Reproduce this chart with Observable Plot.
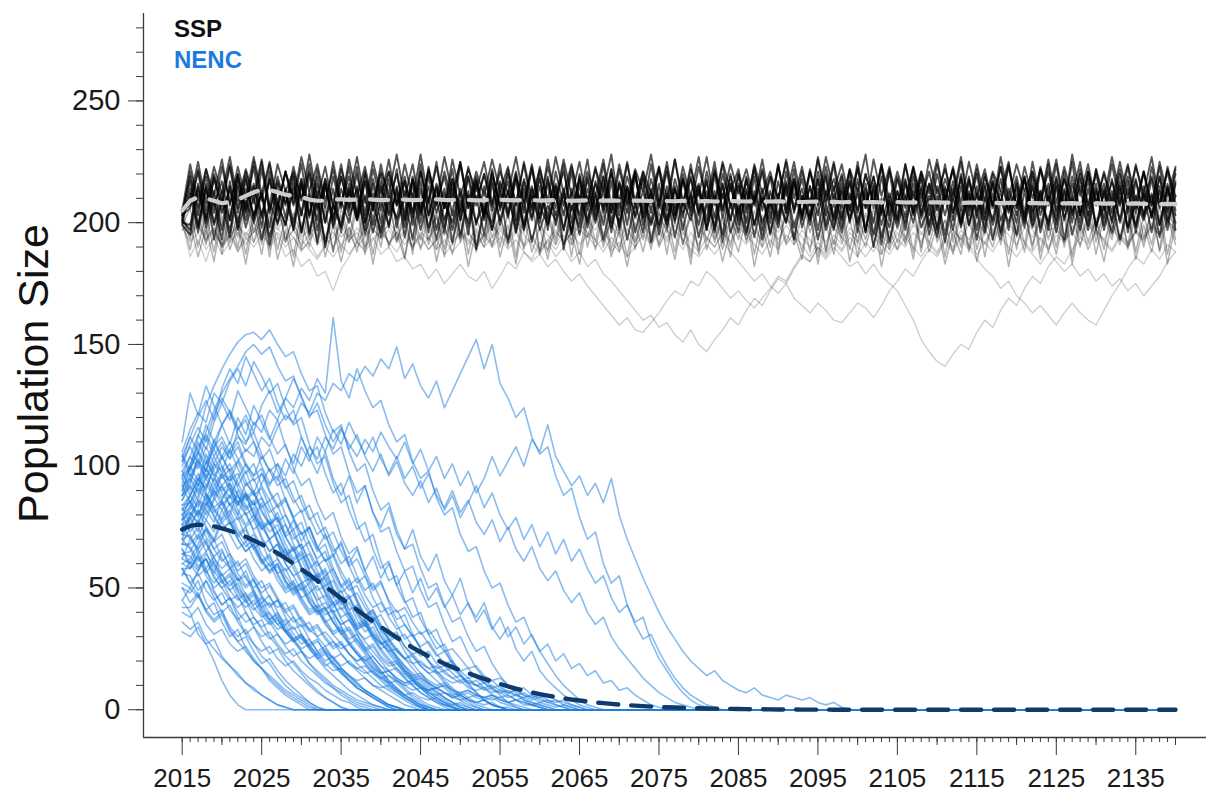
<!DOCTYPE html>
<html>
<head>
<meta charset="utf-8">
<script src="https://cdn.jsdelivr.net/npm/d3@7"></script>
<script src="https://cdn.jsdelivr.net/npm/@observablehq/plot@0.6"></script>
<style>
  html, body { margin: 0; padding: 0; background: #fff; }
  #wrap { position: relative; width: 1206px; height: 793px; overflow: hidden; font-family: "Liberation Sans", Arial, sans-serif; }
  .leg { position: absolute; left: 174px; font-weight: bold; font-size: 24px; line-height: 24px; }
  #ytitle { position: absolute; left: -167px; top: 352px; width: 400px; height: 43px; line-height: 43px; text-align: center; font-size: 43px; color: #111; transform: rotate(-90deg); transform-origin: 50% 50%; white-space: nowrap; }
</style>
</head>
<body>
<div id="wrap">
  <div id="chart"></div>
  <div class="leg" style="top:17px;color:#111">SSP</div>
  <div class="leg" style="top:48px;color:#1b7bdc">NENC</div>
  <div id="ytitle">Population Size</div>
</div>
<script>
// ---------------- data ----------------
const startYear = 2015;
const lastYear = 2140;
const xTickLabels = [2015, 2025, 2035, 2045, 2055, 2065, 2075, 2085, 2095, 2105, 2115, 2125, 2135];
const yTickLabels = [0, 50, 100, 150, 200, 250];

// SSP simulation runs (annual, 2015-2140) - main dense band
const sspCore = [
 [203,221,206,219,204,223,208,220,205,225, 209,224,206,221,207,218,203,222,206,225, 208,219,204,221,205,224,209,220,204,218, 203,223,207,221,209,225,206,219,204,222, 205,220,208,224,206,218,202,221,207,223, 209,226,205,219,204,222,208,220,204,224, 207,221,203,218,206,223,209,225,205,220, 203,219,208,222,206,224,204,218,202,221, 207,223,209,220,205,225,206,219,203,222, 208,218,204,221,207,224,210,222,205,219, 203,220,206,223,208,219,204,225,209,221, 205,218,203,222,207,220,206,224,208,219, 204,221,207,223,205,220],
 [201,214,198,216,200,213,196,217,201,215, 203,218,199,212,197,216,202,219,200,214, 196,213,201,217,199,215,203,212,198,216, 200,219,204,214,197,212,195,216,201,218, 199,213,196,217,202,215,200,211,197,214, 203,218,201,213,196,216,199,219,202,212, 198,215,200,217,203,213,197,211,195,216, 201,218,199,214,196,212,200,217,203,215, 197,213,202,219,200,214,196,216,199,212, 201,217,203,215,198,211,195,214,200,218, 202,216,199,213,197,217,201,215,198,212, 196,214,200,218,203,216,199,213,201,217, 198,215,202,213,197,216],
 [205,224,209,222,211,226,207,223,210,227, 212,225,208,221,210,227,213,224,209,222, 207,226,211,223,208,221,212,228,210,224, 206,222,209,227,212,225,208,221,211,226, 213,223,207,225,210,222,209,227,212,224, 208,221,211,226,207,224,210,222,213,228, 209,225,206,223,211,227,208,221,210,224, 212,222,209,226,207,223,211,225,208,221, 210,227,213,224,209,222,206,226,211,223, 207,224,210,221,212,226,209,223,208,225, 211,222,207,227,210,224,213,221,209,226, 208,223,211,225,206,222,210,227,212,224, 209,221,207,225,211,223],
 [202,217,199,215,193,210,201,219,204,216, 198,221,203,214,200,218,196,213,190,208, 199,216,202,220,205,217,198,214,201,219, 204,215,197,212,192,209,200,218,203,221, 206,217,199,214,201,220,197,215,189,207, 198,214,203,219,200,216,204,221,199,213, 195,211,201,218,205,215,198,220,202,216, 199,213,194,210,200,217,204,222,201,215, 203,219,198,214,202,218,197,213,191,209, 200,216,204,220,199,215,203,217,198,212, 193,210,201,218,205,214,200,219,203,216, 199,221,204,215,197,213,202,218,200,214, 196,212,203,219,201,217],
 [204,219,203,222,207,217,201,220,206,223, 202,218,205,221,208,224,203,216,200,219, 206,223,202,217,207,220,204,222,201,218, 205,221,208,219,203,224,206,217,202,220, 207,222,201,218,205,223,208,216,203,221, 200,219,206,224,204,217,207,221,202,218, 206,223,203,220,208,216,201,222,205,219, 204,217,207,221,202,224,206,218,203,222, 208,220,201,216,205,223,207,219,204,221, 202,224,206,218,203,220,208,222,200,217, 205,219,207,223,204,216,202,221,206,224, 203,218,208,220,201,222,205,217,207,223, 206,221,202,219,204,222],
 [200,212,196,214,199,209,194,215,198,211, 193,208,200,213,197,216,195,210,192,207, 198,214,201,211,196,209,199,215,194,212, 197,210,193,208,200,214,198,211,195,216, 201,213,196,209,192,207,199,215,197,212, 195,211,200,216,198,210,193,208,196,214, 199,212,194,209,201,215,197,213,192,208, 196,214,199,211,195,209,200,216,198,210, 193,207,197,213,201,212,196,215,194,209, 198,211,200,214,195,208,192,210,199,213, 197,215,193,209,200,212,198,216,196,211, 201,213,195,208,199,214,197,210,193,207, 199,212,196,215,200,211],
 [205,207,222,205,220,209,224,206,221,208, 225,204,219,207,223,210,221,205,218,208, 224,206,220,203,222,209,226,207,219,204, 221,208,225,206,218,205,223,209,220,207, 224,203,219,208,222,206,226,210,221,205, 218,207,223,204,220,209,225,206,219,208, 222,205,226,209,218,203,221,207,224,206, 220,208,223,205,219,210,225,204,221,207, 226,209,218,206,222,204,220,208,224,205, 219,207,223,210,221,205,218,209,225,206, 222,204,220,208,224,207,219,205,223,209, 218,206,225,203,221,208,220,207,222,204, 224,209,219,206,223,208],
 [200,199,215,201,213,197,217,200,214,203, 212,198,216,202,219,196,213,201,218,199, 214,203,211,197,216,200,218,198,213,202, 217,196,214,201,212,204,219,199,215,197, 213,202,218,198,211,200,216,203,214,196, 219,201,212,199,217,197,215,202,213,200, 216,198,214,204,211,199,218,196,212,201, 215,200,219,197,213,203,216,198,211,202, 218,199,212,201,217,196,214,200,219,203, 213,197,216,202,211,198,215,204,218,199, 212,201,217,196,214,203,219,199,213,197, 216,202,211,200,218,197,213,201,215,198, 217,203,212,199,214,200],
 [206,210,225,208,223,212,227,209,222,211, 226,207,224,213,221,209,228,210,223,206, 222,211,227,208,225,212,221,207,224,210, 228,209,223,206,226,211,222,213,225,208, 221,212,227,209,224,207,223,210,226,211, 225,208,222,213,228,206,224,209,221,212, 223,210,226,207,222,211,227,208,225,213, 222,206,224,212,221,209,226,210,223,207, 227,211,225,208,222,213,228,206,224,209, 221,210,223,207,226,212,222,211,227,208, 224,209,221,213,225,206,223,210,222,212, 226,207,228,211,224,208,221,209,225,210, 223,212,227,208,222,211],
 [201,197,216,200,219,204,214,198,218,202, 213,191,208,199,216,203,220,197,215,201, 219,205,214,200,212,194,209,202,217,199, 221,203,215,198,218,201,213,189,206,200, 216,204,220,197,214,202,219,199,212,196, 211,200,217,205,222,198,215,203,218,192, 208,199,214,202,219,204,213,197,216,201, 220,196,211,193,209,201,217,205,214,199, 218,203,215,198,221,200,212,190,207,198, 213,202,219,204,216,197,214,201,220,203, 215,198,212,195,210,200,218,204,213,199, 219,201,216,203,221,198,214,200,217,196, 211,202,218,199,215,203],
 [203,206,221,202,218,207,223,204,219,201, 222,205,217,208,220,203,224,206,216,202, 219,207,223,200,218,205,221,208,217,204, 224,203,216,206,222,201,219,207,220,205, 217,208,221,204,223,202,218,206,224,200, 220,205,216,207,222,203,219,208,221,204, 223,201,218,206,224,205,217,202,220,207, 216,204,222,208,219,200,221,206,218,203, 221,207,224,202,217,205,220,208,223,201, 218,206,222,203,216,207,224,204,219,205, 220,202,217,208,223,206,218,201,222,207, 224,205,219,203,221,207,216,204,220,206, 218,203,223,207,221,205],
 [199,195,213,198,210,193,215,197,209,200, 212,194,208,199,214,196,211,192,216,198, 209,200,215,195,207,197,212,201,210,193, 214,198,209,196,216,194,211,200,208,197, 213,192,210,199,215,197,207,201,212,195, 216,198,211,193,208,200,214,196,209,199, 210,201,215,197,212,194,208,199,216,196, 207,195,213,200,209,198,215,193,211,201, 214,197,208,196,212,199,216,195,210,192, 209,200,213,198,207,194,211,197,215,199, 212,196,216,201,209,195,213,198,208,200, 215,193,210,197,214,199,207,196,212,198, 208,201,211,194,216,197]
];

// SSP runs in the lower fringe of the band
const sspMid = [
 [199,206,190,204,188,207,192,203,187,205, 191,208,189,202,186,206,193,209,190,204, 188,203,192,207,187,205,190,201,186,204, 193,208,189,203,191,206,187,202,192,209, 190,204,186,207,193,203,188,205,191,201, 187,206,192,208,189,202,186,204,193,207, 191,203,188,205,186,209,192,204,189,202, 193,207,187,203,190,206,192,201,188,205, 186,204,191,208,189,203,193,206,187,202, 192,205,188,207,191,204,186,203,190,208, 189,202,193,206,187,205,191,209,188,203, 190,207,186,204,192,202,189,206,193,205, 188,203,191,207,187,204],
 [201,189,205,191,208,187,203,190,206,192, 204,186,207,193,202,189,209,191,205,188, 203,192,206,187,204,190,208,193,201,189, 207,191,203,186,205,192,209,188,204,190, 202,193,206,189,208,187,203,191,205,186, 209,190,204,192,201,188,206,193,203,189, 205,187,208,191,203,189,207,192,202,186, 204,193,201,190,206,187,209,191,203,188, 208,189,205,192,202,186,204,190,207,193, 203,191,206,188,209,192,201,187,205,190, 206,186,203,193,208,189,204,191,202,188, 201,192,207,190,205,187,203,193,209,189, 204,190,206,188,202,191],
 [197,200,186,198,184,203,189,199,183,201, 187,204,185,197,182,200,190,205,186,199, 184,198,188,202,183,200,191,196,185,203, 189,204,184,199,187,201,182,197,190,205, 186,199,183,203,188,198,185,201,191,196, 183,202,189,204,186,197,182,200,188,203, 190,198,185,201,183,205,189,199,184,197, 188,203,182,198,186,201,191,196,185,204, 183,200,187,205,184,198,190,202,182,197, 189,201,185,203,188,199,183,196,187,204, 184,198,190,202,182,200,188,205,185,199, 187,203,183,200,189,197,184,201,191,204, 185,199,188,203,183,200],
 [203,193,208,195,211,190,206,194,209,196, 205,189,210,192,204,195,212,191,207,188, 206,194,209,190,203,196,211,192,205,187, 210,193,204,189,207,195,212,191,206,194, 203,190,208,196,211,188,205,193,209,191, 212,194,206,190,203,195,210,189,207,192, 204,196,211,191,206,187,209,194,203,190, 208,192,205,195,212,190,204,193,210,196, 206,188,203,194,209,191,211,195,205,189, 210,193,207,190,204,196,212,192,206,188, 203,195,209,191,211,194,205,189,208,193, 207,190,204,196,210,192,206,195,203,191, 209,194,205,189,211,193]
];

// SSP runs that wander well below the band
const sspLow = [
 [200,186,193,184,195,191,199,188,196,192, 198,190,194,186,189,182,185,178,180,172, 181,186,192,189,197,194,200,196,203,199, 205,198,202,195,199,193,197,190,196,192, 199,194,201,197,204,198,195,191,197,193, 200,196,193,188,194,190,197,192,199,195, 202,197,194,189,196,191,198,193,200,196, 203,198,195,190,197,193,199,194,191,186, 192,188,195,191,198,194,200,196,193,189, 196,192,199,195,201,197,194,190,197,193, 200,196,203,198,195,191,198,194,201,197, 198,193,196,191,199,195,202,197,194,190, 197,193,200,196,203,199],
 [204,197,201,194,198,190,195,188,193,196, 200,195,203,198,194,189,192,186,191,194, 199,193,196,190,194,187,190,184,186,181, 183,177,181,175,179,183,178,176,180,173, 178,184,181,188,185,192,189,196,193,199, 196,201,197,203,199,194,198,192,197,201, 197,193,199,195,202,198,194,190,196,200, 195,191,197,193,200,196,202,198,194,190, 196,192,198,194,190,186,192,188,195,191, 198,194,200,196,192,188,194,197,193,199, 195,191,197,193,199,195,201,197,193,189, 195,192,198,194,200,196,192,188,194,190, 196,192,198,195,201,197],
 [202,196,200,193,198,191,196,189,194,198, 195,201,197,203,199,194,197,191,195,199, 194,198,192,197,201,196,199,193,197,191, 195,189,193,187,191,196,192,198,194,199, 195,191,196,190,194,188,192,186,190,184, 188,182,185,179,176,172,168,164,160,162, 157,159,154,151,156,150,147,152,156,161, 158,164,169,166,172,177,175,181,186,184, 190,187,193,189,196,192,198,194,191,187, 193,190,196,192,199,195,201,197,193,189, 195,192,198,194,200,196,192,188,194,190, 197,193,199,195,201,197,193,189,195,191, 197,194,199,195,201,197],
 [203,195,199,192,197,190,194,199,195,200, 196,202,198,193,197,191,195,199,194,190, 196,192,198,194,200,196,192,188,194,190, 196,193,199,195,201,197,193,189,195,191, 197,193,199,195,191,187,193,189,195,191, 197,194,200,196,192,188,194,190,196,192, 198,194,200,196,192,188,194,190,196,192, 198,195,191,187,193,189,195,191,197,193, 189,185,190,186,182,184,179,183,178,175, 172,166,160,152,147,143,141,146,150,148, 155,160,157,164,169,166,173,178,175,182, 186,183,189,194,191,197,193,199,195,192, 196,193,199,195,200,196],
 [198,192,196,189,194,187,192,196,191,197, 193,199,195,190,194,188,193,197,192,196, 191,195,190,194,198,193,197,192,196,190, 194,189,193,197,192,196,191,195,190,194, 198,193,197,191,195,189,193,197,192,196, 191,195,190,194,188,192,186,190,195,191, 196,192,197,193,189,186,191,187,192,188, 184,180,176,179,174,171,175,169,166,163, 167,164,160,159,163,167,165,161,166,172, 176,181,178,184,189,186,192,188,194,190, 185,181,178,173,176,170,167,163,166,162, 158,163,167,163,160,158,164,170,175,181, 186,183,189,185,191,188],
 [201,195,199,193,197,191,195,199,194,190, 195,191,196,192,197,193,189,185,190,186, 191,187,192,188,193,197,192,196,191,195, 190,194,189,193,188,192,196,191,195,190, 194,189,193,188,184,187,182,185,180,176, 179,174,170,166,162,158,161,156,155,159, 163,168,172,170,176,174,180,177,173,169, 172,168,165,169,173,178,176,182,187,184, 190,186,192,188,194,190,186,191,187,193, 189,194,190,186,191,187,193,189,195,191, 187,192,188,194,190,186,191,187,183,188, 184,180,183,178,181,176,179,174,177,172, 175,170,174,178,184,188]
];

// SSP mean trajectory (2015-2140)
const sspMean = [205,209,210.5,210,209,208,208.5,209.5,211,212.5, 213.5,213.5,212.5,211.5,211,210.5,209.5,209,209,209.5, 209.6,209.4,209.5,209.7,209.5,209.3,209.4,209.6,209.5,209.3, 209.4,209.5,209.6,209.4,209.3,209.5,209.4,209.2,209.3,209.5, 209.4,209.3,209.2,209.4,209.3,209.1,209.2,209.3,209.2,209.0, 209.1,209.2,209.0,209.1,209.2,209.0,208.9,209.1,209.0,208.9, 209.0,208.9,208.8,209.0,208.9,208.8,208.9,208.7,208.8,208.9, 208.8,208.7,208.8,208.6,208.7,208.8,208.6,208.7,208.5,208.6, 208.7,208.5,208.6,208.4,208.5,208.6,208.4,208.5,208.3,208.4, 208.5,208.3,208.4,208.2,208.3,208.4,208.2,208.3,208.1,208.2, 208.3,208.1,208.2,208.0,208.1,208.2,208.0,208.1,207.9,208.0, 208.1,207.9,208.0,207.8,207.9,208.0,207.8,207.9,207.7,207.8, 207.9,207.7,207.8,207.6,207.7,207.6];

// NENC simulation runs (annual from 2015 until extinction; extinct runs stay at 0 to lastYear)
const nencRuns = [
 [45,40,31,27,20,12,6,2,0],
 [32,30,34,27,29,22,18,15,11,9,6,4,2,1,0],
 [58,52,47,41,44,36,30,33,25,20,17,12,9,6,4,2,0],
 [66,60,55,58,49,43,46,38,31,27,22,19,14,10,7,5,3,1,0],
 [50,48,53,44,39,41,33,28,30,24,19,21,16,12,9,6,3,1,0],
 [70,66,59,62,54,50,45,47,40,35,37,30,26,22,19,15,11,8,5,3,1,0],
 [76,70,75,68,63,66,58,53,55,48,42,44,37,32,28,24,19,15,12,9,6,4,2,1,0],
 [40,38,42,35,31,33,27,24,26,21,17,14,11,8,6,4,2,0],
 [84,88,95,91,99,104,97,92,98,89,83,86,78,71,74,66,58,61,53,46,49,41,35,37,30,25,21,17,13,10,7,5,3,1,0],
 [78,81,76,84,90,86,93,88,82,85,77,70,73,65,60,62,55,49,51,44,38,40,33,28,24,20,16,12,9,6,4,2,1,0],
 [92,95,102,98,108,112,105,110,101,96,99,90,84,87,79,72,75,67,61,63,55,49,51,44,38,34,29,25,21,17,13,10,7,5,3,2,1,0],
 [68,68,72,65,70,62,58,61,54,50,53,46,42,44,38,34,36,30,26,28,23,19,16,13,10,8,6,4,2,1,0],
 [80,86,80,89,83,78,82,74,69,72,64,59,62,55,50,52,45,40,42,36,31,27,23,19,15,12,9,7,5,3,1,0],
 [96,100,94,105,98,92,96,88,83,86,78,73,76,68,62,65,57,52,54,47,41,44,37,32,34,28,23,19,15,12,9,6,4,2,1,0],
 [75,78,85,80,87,82,76,79,71,66,69,61,56,58,51,46,48,41,36,38,32,27,29,24,20,16,12,9,6,4,2,0],
 [88,92,86,97,90,84,88,80,75,78,70,65,68,60,55,57,50,45,47,40,35,37,31,26,22,18,14,11,8,5,3,1,0],
 [60,58,63,56,61,53,49,52,45,41,44,37,33,35,29,25,27,22,18,20,15,12,9,7,5,3,1,0],
 [102,108,101,112,104,97,101,93,87,90,82,76,79,71,65,68,60,54,57,49,43,46,39,34,36,30,25,21,17,13,10,7,5,3,1,0],
 [90,100,112,125,133,140,146,151,154,155,152,156,150,145,147,138,131,133,122,114,117,106,98,101,90,82,85,74,66,68,58,50,52,43,36,38,30,24,26,19,14,10,7,4,2,1,0],
 [86,92,105,114,123,130,136,141,147,150,146,149,141,135,137,128,121,123,113,105,108,97,89,92,81,73,75,65,57,59,49,42,44,35,28,30,23,17,13,9,6,3,1,0],
 [106,115,122,118,130,126,135,140,133,143,137,130,134,124,117,120,109,101,104,93,85,88,77,69,72,61,53,55,45,38,40,31,25,27,20,15,11,7,4,2,1,0],
 [78,82,88,95,101,98,107,112,109,118,114,123,119,128,124,132,127,136,130,161,135,128,140,131,124,127,117,110,113,102,95,98,87,80,83,72,65,67,57,50,52,43,36,38,30,24,19,14,10,7,4,2,1,0],
 [72,80,86,84,92,97,94,102,107,104, 112,108,116,121,118,126,122,130,127,134, 131,138,135,141,137,144,140,149,136,142, 133,128,135,124,131,138,145,152,140,150, 134,128,120,124,112,105,108,96,88,91, 79,70,73,60,52,55,43,36,38,28, 21,16,11,7,4,2,1,0],
 [64,65,71,78,73,82,88,84,93,89, 97,92,101,96,105,100,108,103,112,107, 115,109,104,111,106,114,108,103,110,101, 107,98,104,95,101,92,98,89,95,104, 96,102,108,100,111,106,117,104,98,92, 96,88,93,85,95,80,70,62,54,47, 40,34,29,24,20,17,14,16,12,10, 8,7,9,6,5,4,6,5,4,5, 3,2,3,1,0],
 [82,88,95,90,101,108,103,115,121,114, 125,131,122,128,136,129,120,126,117,110, 116,107,113,104,98,105,96,102,93,88, 94,85,91,82,88,79,85,92,83,89, 80,74,79,70,76,67,73,64,70,61, 66,58,52,55,46,40,43,35,29,31, 24,18,13,9,6,4,2,1,0],
 [60,62,68,75,70,79,85,80,89,84, 93,99,94,103,97,108,102,112,106,115, 109,118,111,105,112,103,97,104,95,100, 91,97,88,83,90,81,86,77,72,78, 69,75,66,61,67,58,53,57,49,44, 48,40,35,38,30,25,21,17,13,10, 7,5,3,2,1,0],
 [76,79,73,82,77,86,80,90,84,78, 85,76,81,72,78,69,75,66,72,63, 69,60,66,57,63,54,60,51,57,48, 54,45,50,42,47,39,44,36,41,33, 38,30,34,27,31,24,27,20,23,17, 19,14,16,11,12,8,9,6,4,2, 1,0],
 [95,99,106,98,110,117,109,120,113,125, 118,111,119,108,101,112,104,97,106,95, 88,96,85,92,81,75,83,72,66,74, 63,57,64,53,47,54,43,38,44,34, 29,34,25,20,24,16,12,9,6,4, 2,1,0],
 [56,55,49,53,46,40,43,36,31,34,28,23,25,20,16,13,10,7,5,3,1,0],
 [80,83,91,86,95,89,84,88,80,74,77,69,63,66,58,52,54,47,41,44,37,32,27,23,19,15,11,8,5,3,1,0],
 [98,104,113,107,118,126,119,131,124,117,121,112,105,109,99,92,95,85,78,81,71,64,67,57,50,53,44,37,39,31,25,20,15,11,8,5,3,1,0],
 [42,42,47,40,36,39,32,28,24,20,17,13,10,7,5,3,1,0],
 [70,72,64,69,60,55,58,50,46,49,42,37,40,33,29,31,25,21,17,14,11,8,6,4,2,1,0],
 [104,112,120,127,119,132,140,134,145,138,131,136,126,119,123,112,104,108,97,89,93,82,74,77,66,58,61,51,44,46,37,31,33,25,19,14,10,7,4,2,1,0],
 [88,95,89,99,93,87,91,82,76,80,71,65,68,60,55,49,52,44,39,41,34,29,31,25,20,16,12,9,6,4,2,1,0],
 [62,60,66,58,63,55,51,54,47,43,46,39,35,37,31,27,29,24,20,22,17,14,11,8,6,4,2,1,0],
 [110,130,121,133,125,117,122,113,106,110,100,93,96,86,79,82,72,65,68,58,51,54,45,38,40,32,26,21,16,12,9,6,4,2,1,0],
 [52,50,57,62,56,65,59,53,57,49,44,47,40,35,38,31,27,29,23,19,16,12,9,7,5,3,1,0],
 [82,85,92,99,94,104,110,103,97,101,92,86,89,80,74,77,68,62,65,56,50,53,45,39,41,34,28,30,24,19,15,11,8,5,3,1,0],
 [68,67,61,65,57,52,55,48,44,47,40,36,38,32,28,30,25,21,23,18,15,12,9,7,5,3,2,1,0],
 [36,33,36,29,25,21,18,14,11,8,6,4,2,1,0],
 [74,76,70,74,66,61,64,56,51,54,47,42,45,38,33,35,29,24,26,21,17,14,11,8,6,4,2,1,0],
 [64,63,58,62,55,50,53,46,42,45,39,35,37,32,28,30,26,23,25,21,18,20,17,15,16,13,11,12,10,8,9,7,6,7,5,4,5,3,2,3,1,1,0],
 [72,71,66,70,62,58,61,54,50,53,46,43,45,40,36,38,33,30,32,28,25,27,23,20,22,18,16,17,14,12,13,11,9,10,8,7,8,6,5,6,4,3,4,2,2,1,0],
 [84,85,80,86,79,74,77,70,65,68,61,57,60,53,49,52,46,42,44,39,35,37,32,29,31,27,24,25,21,19,20,17,15,16,13,11,12,10,9,10,8,7,8,6,5,6,4,3,4,2,1,0],
 [58,58,64,57,52,56,49,45,48,42,38,40,35,32,34,29,26,28,24,21,23,19,17,18,15,13,14,12,10,11,9,8,9,7,6,7,5,6,5,4,5,3,4,3,2,3,2,1,2,1,0],
 [96,104,99,108,101,95,99,91,86,89,81,76,79,71,66,68,61,55,58,50,45,47,40,35,37,30,26,22,18,14,11,8,6,4,2,1,0],
 [88,97,92,101,107,100,94,97,89,84,87,79,73,76,68,62,64,57,51,53,46,41,43,37,32,28,24,20,16,13,10,7,5,3,1,0],
 [62,70,66,74,69,77,72,66,69,62,57,60,53,48,50,44,39,41,35,31,27,23,19,16,13,10,8,6,4,2,1,0],
 [105,98,110,103,96,100,92,85,88,80,74,77,69,63,66,58,52,55,48,42,45,38,33,35,29,24,20,16,13,10,7,5,3,2,1,0],
 [55,61,57,64,59,53,56,49,45,48,41,37,39,33,29,31,26,22,24,19,16,13,10,8,6,4,2,1,0],
 [92,85,93,88,81,85,77,71,74,66,60,63,55,49,52,45,40,42,36,31,33,27,23,19,16,13,10,7,5,3,1,0],
 [70,79,86,82,90,96,91,85,89,81,75,78,70,64,67,59,53,56,49,44,46,39,34,36,30,25,27,22,18,15,12,9,7,5,3,1,0],
 [100,109,116,110,121,128,122,115,119,110,103,107,98,91,94,85,78,81,72,65,68,59,52,55,46,40,42,35,29,31,25,20,16,12,9,6,4,2,1,0],
 [45,50,46,53,48,43,46,40,36,38,33,29,31,26,22,24,19,16,13,10,8,6,4,3,2,1,0],
 [83,76,82,75,69,72,64,59,62,55,50,52,46,41,43,37,33,35,30,26,28,23,20,22,18,15,16,13,11,12,9,8,9,7,5,6,4,3,4,2,1,0],
 [78,88,83,93,87,97,90,84,88,80,74,77,69,63,66,58,53,55,48,43,45,39,34,36,31,27,29,24,21,22,18,15,16,13,11,12,9,8,9,6,5,6,4,3,2,1,0],
 [98,90,97,89,83,86,78,72,75,67,61,64,56,50,53,46,41,43,37,32,34,28,24,20,17,14,11,8,6,4,2,1,0],
 [66,58,63,55,50,53,46,42,45,38,34,36,31,27,29,24,21,23,19,16,17,14,12,13,10,9,10,8,6,7,5,4,5,3,2,3,1,0],
 [90,99,106,101,111,104,98,102,94,88,91,83,77,80,72,66,69,61,55,58,51,46,48,42,37,39,33,29,31,26,22,24,19,16,17,14,11,12,9,7,8,6,4,5,3,2,1,0],
 [58,52,56,49,45,48,41,37,40,34,30,32,27,23,25,20,17,14,11,9,7,5,3,2,1,0],
 [102,112,106,117,110,103,107,99,92,95,87,81,84,76,70,73,65,59,62,54,48,51,44,38,41,35,30,32,26,22,18,15,12,9,6,4,2,1,0],
 [80,73,78,71,66,69,62,57,60,53,48,51,45,40,42,36,32,34,29,25,27,23,20,21,17,15,16,13,11,12,10,8,9,7,5,6,4,3,4,2,1,0],
 [95,88,94,102,96,90,93,85,80,83,75,70,73,66,61,64,57,52,55,49,44,46,40,36,38,33,29,31,26,23,24,20,17,18,15,12,13,10,8,9,7,5,6,4,3,2,1,0],
 [72,81,77,85,80,74,77,70,65,68,61,56,59,52,47,50,44,40,42,36,32,34,29,25,27,22,19,20,16,14,15,12,10,11,8,7,8,6,5,6,4,3,2,1,0],
 [86,94,101,95,104,110,103,108,100,94,97,89,83,86,78,72,75,67,61,64,57,51,54,47,42,44,38,33,35,30,26,28,23,19,20,16,13,14,11,9,10,7,6,7,5,3,4,2,1,0],
 [50,44,48,41,37,40,34,30,33,27,24,26,21,18,20,16,13,11,8,6,4,3,1,0],
 [104,96,103,95,88,92,84,78,81,73,67,70,62,57,60,53,48,51,45,40,42,37,33,35,30,27,28,24,21,23,19,17,18,15,13,14,11,10,11,8,7,8,6,5,6,4,3,4,2,1,0],
 [68,75,82,78,86,92,87,95,101,96,104,98,92,95,87,81,84,76,70,73,65,59,62,55,49,52,45,40,42,36,31,33,28,24,25,21,17,18,14,12,13,10,8,9,6,5,6,4,3,2,1,0],
 [76,84,79,88,82,77,80,72,67,70,62,57,60,53,48,51,44,39,41,36,31,33,28,24,26,21,18,19,15,13,14,11,9,10,7,6,7,5,4,5,3,2,1,0],
 [93,101,108,113,107,117,123,116,110,114,105,98,101,92,85,88,79,72,75,67,60,63,55,49,52,45,39,41,35,30,32,27,22,24,19,16,17,13,11,12,9,7,8,6,4,5,3,2,1,0]
];

// NENC mean trajectory (2015-2100, then 0 to lastYear)
const nencMean = [74,75.5,76,75.8,75.3,74.5,73.5,72.3,71,69.5, 68,66.2,64.3,62.2,60,57.7,55.4,53,50.6,48.2, 45.8,43.4,41,38.6,36.3,34,31.8,29.6,27.5,25.5, 23.7,22,20.4,18.9,17.5,16.2,15,13.8,12.7,11.6, 10.6,9.6,8.7,7.9,7.1,6.4,5.8,5.2,4.7,4.2, 3.8,3.4,3,2.7,2.4,2.1,1.9,1.7,1.5,1.3, 1.1,1,0.9,0.8,0.7,0.6,0.5,0.45,0.4,0.35, 0.3,0.25,0.2,0.18,0.15,0.12,0.1,0.08,0.06,0.05, 0.04,0.03,0.02,0.01,0.01,0];

// ---------------- build rows ----------------
function rowsFrom(runs, tag, padToEnd) {
  const out = [];
  runs.forEach((vals, k) => {
    vals.forEach((v, i) => out.push({year: startYear + i, value: v, run: tag + k}));
    const lastIdxYear = startYear + vals.length - 1;
    if (padToEnd && lastIdxYear < lastYear) out.push({year: lastYear, value: vals[vals.length - 1], run: tag + k});
  });
  return out;
}
const nencRows = rowsFrom(nencRuns, "n", true);
const sspLowRows = rowsFrom(sspLow, "l", false);
const sspMidRows = rowsFrom(sspMid, "m", false);
const sspCoreRows = rowsFrom(sspCore, "c", false);
const sspMeanRows = rowsFrom([sspMean], "sm", false);
const nencMeanRows = rowsFrom([nencMean], "nm", true);

const xDomain = [2010.13, 2143.9];
const yDomain = [-11.4, 285.9];
const yMinorTicks = d3.range(0, 281, 10);
const xMidTicks = d3.range(2020, 2141, 10);
const xMinorTicks = d3.range(2015, 2141, 1);

const axisColor = "#3a3a3a";

const chart = Plot.plot({
  width: 1206,
  height: 793,
  marginLeft: 143,
  marginRight: 0,
  marginTop: 13,
  marginBottom: 56,
  x: {domain: xDomain},
  y: {domain: yDomain},
  style: {fontFamily: "'Liberation Sans', Arial, sans-serif", color: "#1a1a1a", background: "#fff"},
  marks: [
    Plot.line(nencRows, {x: "year", y: "value", z: "run", stroke: "#1f7fe0", strokeOpacity: 0.52, strokeWidth: 1.6}),
    Plot.line(sspLowRows, {x: "year", y: "value", z: "run", stroke: "#000", strokeOpacity: 0.2, strokeWidth: 1.3}),
    Plot.line(sspMidRows, {x: "year", y: "value", z: "run", stroke: "#000", strokeOpacity: 0.3, strokeWidth: 1.5}),
    Plot.line(sspCoreRows, {x: "year", y: "value", z: "run", stroke: "#000", strokeOpacity: 0.66, strokeWidth: 1.9}),
    Plot.line(nencMeanRows, {x: "year", y: "value", stroke: "#0f3b6c", strokeWidth: 4.4, strokeDasharray: "20,13"}),
    Plot.line(sspMeanRows, {x: "year", y: "value", stroke: "#cdcdcd", strokeWidth: 4.2, strokeDasharray: "18,15"}),
    Plot.ruleX([xDomain[0]], {stroke: axisColor, strokeWidth: 1.3}),
    Plot.ruleY([yDomain[0]], {stroke: axisColor, strokeWidth: 1.3}),
    Plot.axisY({ticks: yTickLabels, tickSize: 15, tickPadding: 8, fontSize: 29, label: null, stroke: axisColor}),
    Plot.axisY({ticks: yMinorTicks, tickSize: 7, tickFormat: () => "", label: null, stroke: axisColor}),
    Plot.axisX({ticks: xTickLabels, tickSize: 18, tickPadding: 13, fontSize: 26, tickFormat: d => String(d), label: null, stroke: axisColor}),
    Plot.axisX({ticks: xMidTicks, tickSize: 8, tickFormat: () => "", label: null, stroke: axisColor}),
    Plot.axisX({ticks: xMinorTicks, tickSize: 5, tickFormat: () => "", label: null, stroke: axisColor})
  ]
});
document.getElementById("chart").appendChild(chart);
</script>
</body>
</html>
